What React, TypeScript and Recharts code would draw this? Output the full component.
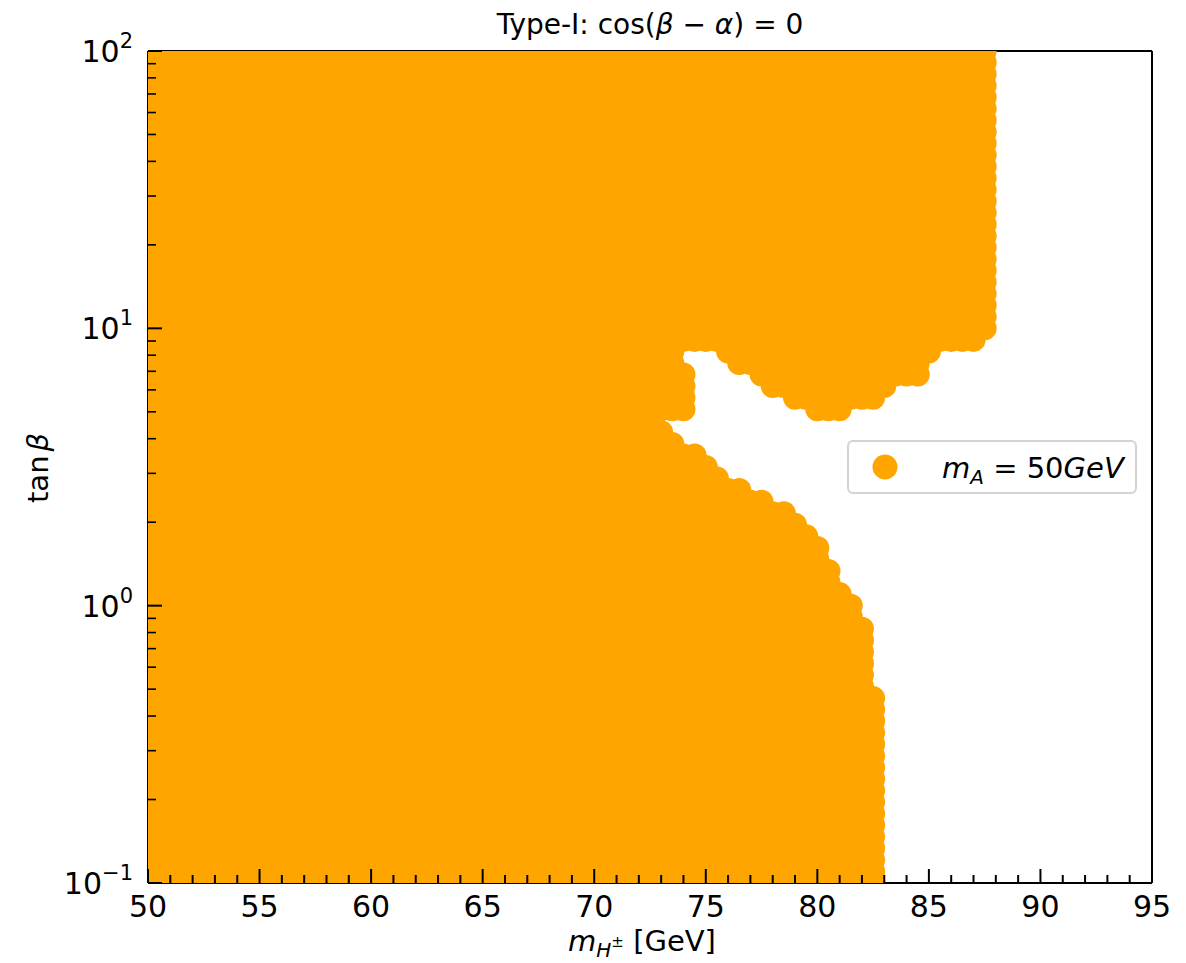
import React from 'react';
import { ScatterChart, Scatter, XAxis, YAxis, ReferenceLine, Legend } from 'recharts';

const FONT = '"DejaVu Sans", Verdana, sans-serif';
const ORANGE = '#FFA500';

// scan grid: charged Higgs mass columns (GeV)
const MH_GRID = [
  50, 50.5, 51, 51.5, 52, 52.5, 53, 53.5, 54, 54.5, 55, 55.5, 56, 56.5, 57, 57.5,
  58, 58.5, 59, 59.5, 60, 60.5, 61, 61.5, 62, 62.5, 63, 63.5, 64, 64.5, 65, 65.5,
  66, 66.5, 67, 67.5, 68, 68.5, 69, 69.5, 70, 70.5, 71, 71.5, 72, 72.5, 73, 73.5,
  74, 74.5, 75, 75.5, 76, 76.5, 77, 77.5, 78, 78.5, 79, 79.5, 80, 80.5, 81, 81.5,
  82, 82.5, 83, 83.5, 84, 84.5, 85, 85.5, 86, 86.5, 87, 87.5,
];

// scan grid: tan(beta) rows (log spaced)
const TANB_GRID = [
  0.1, 0.11007, 0.12115, 0.13335, 0.14678, 0.16156, 0.17783, 0.19573, 0.21544, 0.23714, 0.26102, 0.2873,
  0.31623, 0.34807, 0.38312, 0.4217, 0.46416, 0.5109, 0.56234, 0.61897, 0.68129, 0.74989, 0.8254, 0.90852,
  1, 1.1007, 1.2115, 1.3335, 1.4678, 1.6156, 1.7783, 1.9573, 2.1544, 2.3714, 2.6102, 2.873,
  3.1623, 3.4807, 3.8312, 4.217, 4.6416, 5.109, 5.6234, 6.1897, 6.8129, 7.4989, 8.254, 9.0852,
  10, 11.007, 12.115, 13.335, 14.678, 16.156, 17.783, 19.573, 21.544, 23.714, 26.102, 28.73,
  31.623, 34.807, 38.312, 42.17, 46.416, 51.09, 56.234, 61.897, 68.129, 74.989, 82.54, 90.852,
  100,
];

// columns where the allowed region is not complete (columns left of these are fully allowed)
const BAND_X = [
  73, 73.5, 74, 74.5, 75, 75.5, 76, 76.5, 77, 77.5, 78, 78.5, 79, 79.5, 80,
  80.5, 81, 81.5, 82, 82.5, 83, 83.5, 84, 84.5, 85, 85.5, 86, 86.5, 87, 87.5,
];
// largest allowed tan(beta) of the low band (0 = no low band)
const LOWER_TOP = [
  4.217, 3.8312, 3.4807, 3.4807, 3.1623, 2.873, 2.6102, 2.6102, 2.3714, 2.3714, 2.1544, 2.1544, 1.9573, 1.7783, 1.6156,
  1.3335, 1.1007, 1.0, 0.8254, 0.46416, 0, 0, 0, 0, 0, 0, 0, 0, 0, 0,
];
// smallest allowed tan(beta) of the high band
const UPPER_BOTTOM = [
  5.109, 5.109, 9.0852, 9.0852, 9.0852, 9.0852, 8.254, 7.4989, 7.4989, 6.8129, 6.1897, 6.1897, 5.6234, 5.6234, 5.109,
  5.109, 5.109, 5.6234, 5.6234, 5.6234, 6.1897, 6.8129, 6.8129, 6.8129, 8.254, 9.0852, 9.0852, 9.0852, 9.0852, 10,
];
// isolated allowed island
const ISLAND_X = [74];
const ISLAND_LOW = [5.109];
const ISLAND_HIGH = [6.8129];

const X_MAJOR = [50, 55, 60, 65, 70, 75, 80, 85, 90, 95];
const X_TICKS = [
  50, 51, 52, 53, 54, 55, 56, 57, 58, 59, 60, 61, 62, 63, 64, 65, 66, 67, 68, 69, 70, 71, 72,
  73, 74, 75, 76, 77, 78, 79, 80, 81, 82, 83, 84, 85, 86, 87, 88, 89, 90, 91, 92, 93, 94, 95,
];
const Y_MAJOR = [0.1, 1, 10, 100];
const Y_MAJOR_EXP = ['\u22121', '0', '1', '2'];
const Y_TICKS = [
  0.1, 0.2, 0.3, 0.4, 0.5, 0.6, 0.7, 0.8, 0.9, 1, 2, 3, 4, 5, 6, 7, 8, 9,
  10, 20, 30, 40, 50, 60, 70, 80, 90, 100,
];

const points: { mh: number; tanb: number }[] = [];
MH_GRID.forEach((mh) => {
  const bi = BAND_X.indexOf(mh);
  const ii = ISLAND_X.indexOf(mh);
  TANB_GRID.forEach((t) => {
    let ok = false;
    if (bi < 0) ok = true;
    else {
      if (LOWER_TOP[bi] > 0 && t <= LOWER_TOP[bi] * 1.01) ok = true;
      if (t >= UPPER_BOTTOM[bi] * 0.99) ok = true;
    }
    if (ii >= 0 && t >= ISLAND_LOW[ii] * 0.99 && t <= ISLAND_HIGH[ii] * 1.01) ok = true;
    if (ok) points.push({ mh, tanb: t });
  });
});

const Dot = (props: any) => {
  const { cx, cy } = props;
  if (cx == null || cy == null) return null;
  return <circle cx={cx} cy={cy} r={12} fill={ORANGE} />;
};

const XTick = (props: any) => {
  const { x, y, payload } = props;
  const v = payload.value;
  const major = X_MAJOR.includes(v);
  return (
    <g>
      <line x1={x} x2={x} y1={y} y2={y - (major ? 14 : 8)} stroke="#000" strokeWidth={2} />
      {major && (
        <text x={x} y={y + 34} textAnchor="middle" fontSize={30} fontFamily={FONT} fill="#000">
          {v}
        </text>
      )}
    </g>
  );
};

const YTick = (props: any) => {
  const { x, y, payload } = props;
  const v = payload.value;
  const mi = Y_MAJOR.findIndex((m) => Math.abs(m - v) / m < 1e-6);
  const major = mi >= 0;
  return (
    <g>
      <line x1={x} x2={x + (major ? 14 : 8)} y1={y} y2={y} stroke="#000" strokeWidth={major ? 2 : 1.6} />
      {major && (
        <text x={x - 15} y={y + 11} textAnchor="end" fontSize={30} fontFamily={FONT} fill="#000">
          10
          <tspan fontSize={21} dy={-14}>{Y_MAJOR_EXP[mi]}</tspan>
        </text>
      )}
    </g>
  );
};

const LegendBox = () => (
  <div
    style={{
      width: 286,
      height: 50,
      border: '2px solid #d3d3d3',
      borderRadius: 6,
      background: '#fff',
      position: 'relative',
      boxSizing: 'content-box',
    }}
  >
    <svg width={286} height={50} style={{ position: 'absolute', left: 0, top: 0 }}>
      <circle cx={36} cy={25} r={12.5} fill={ORANGE} />
      <text x={93} y={36} fontSize={29} fontFamily={FONT} fill="#000">
        <tspan fontStyle="italic">m</tspan>
        <tspan fontStyle="italic" fontSize={20} dy={6}>A</tspan>
        <tspan dy={-6}> = 50</tspan>
        <tspan fontStyle="italic">GeV</tspan>
      </text>
    </svg>
  </div>
);

const XLabel = () => (
  <text x={634} y={943} textAnchor="middle" fontSize={29} fontFamily={FONT} fill="#000">
    <tspan fontStyle="italic">m</tspan>
    <tspan fontStyle="italic" fontSize={20} dy={6}>H</tspan>
    <tspan fontSize={15} dy={-10}>±</tspan>
    <tspan dy={4}> [GeV]</tspan>
  </text>
);

const YLabel = () => (
  <text transform="translate(40, 460) rotate(-90)" textAnchor="middle" fontSize={29} fontFamily={FONT} fill="#000">
    <tspan>tan</tspan>
    <tspan fontStyle="italic" dx={4}>β</tspan>
  </text>
);

export default function App() {
  return (
    <div style={{ position: 'relative', width: 1170, height: 955, fontFamily: FONT }}>
      <div
        style={{
          position: 'absolute',
          left: 0,
          width: 1284,
          top: 0,
          textAlign: 'center',
          fontSize: 28,
          fontFamily: FONT,
          color: '#000',
          whiteSpace: 'nowrap',
        }}
      >
        Type-I: cos(<i>β</i> − <i>α</i>) = 0
      </div>
      <ScatterChart width={1170} height={955} margin={{ top: 43, right: 26, bottom: 40, left: 40 }}>
        <Scatter
          data={points}
          dataKey="tanb"
          fill={ORANGE}
          shape={Dot}
          isAnimationActive={false}
          name="mA"
        />
        <XAxis
          type="number"
          dataKey="mh"
          domain={[50, 95]}
          allowDataOverflow
          ticks={X_TICKS}
          interval={0}
          tickSize={0}
          tickMargin={0}
          tickLine={false}
          tick={XTick}
          height={40}
          axisLine={{ stroke: '#000', strokeWidth: 2 }}
          label={<XLabel />}
        />
        <YAxis
          type="number"
          dataKey="tanb"
          scale="log"
          domain={[0.1, 100]}
          allowDataOverflow
          ticks={Y_TICKS}
          interval={0}
          tickSize={0}
          tickMargin={0}
          tickLine={false}
          tick={YTick}
          width={100}
          axisLine={{ stroke: '#000', strokeWidth: 2 }}
          label={<YLabel />}
        />
        <ReferenceLine x={95} stroke="#000" strokeWidth={2} />
        <ReferenceLine y={100} stroke="#000" strokeWidth={2} />
        <Legend
          layout="horizontal"
          verticalAlign="middle"
          align="center"
          content={<LegendBox />}
          wrapperStyle={{ position: 'absolute', left: 839, top: 432, width: 290, height: 54 }}
        />
      </ScatterChart>
    </div>
  );
}
